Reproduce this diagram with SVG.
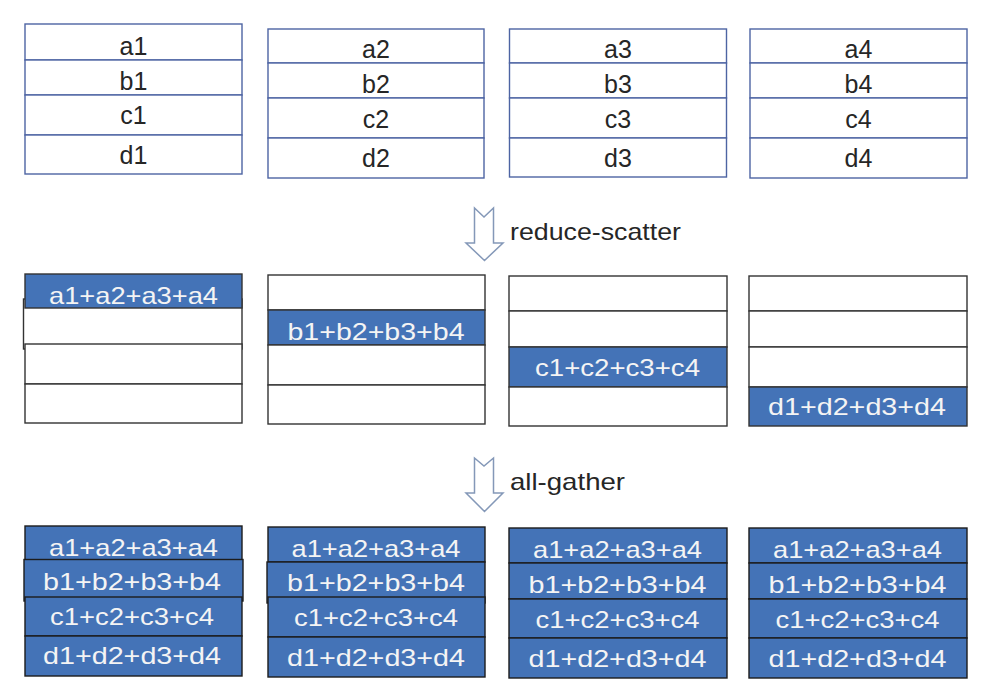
<svg xmlns="http://www.w3.org/2000/svg" width="988" height="694" viewBox="0 0 988 694">
<style>
text{font-family:"Liberation Sans",Arial,sans-serif;font-size:24px;text-anchor:middle}
.t{fill:#262626;font-size:25px}
.w{fill:#f4f4f4}
.top rect{fill:#fff;stroke:#4d64a3;stroke-width:1.4}
.mid rect{fill:#fff;stroke:#333;stroke-width:1.4}
.mid rect.b{fill:#4473b7}
.bot rect{fill:#4473b7;stroke:#1c1c1c;stroke-width:1.4}
.arr{fill:#fff;stroke:#8498b8;stroke-width:1.5;stroke-linejoin:miter}
.lbl{text-anchor:start;fill:#262626}
</style>
<rect width="988" height="694" fill="#fff"/>

<!-- top row -->
<g id="top1" class="top">
<rect x="25" y="24" width="217" height="36"/><rect x="25" y="60" width="217" height="35"/><rect x="25" y="95" width="217" height="40"/><rect x="25" y="135" width="217" height="39"/>
<text class="t" x="133.5" y="54.5">a1</text><text class="t" x="133.5" y="90">b1</text><text class="t" x="133.5" y="124">c1</text><text class="t" x="133.5" y="164">d1</text>
</g>
<g id="top2" class="top">
<rect x="268" y="29" width="216" height="34"/><rect x="268" y="63" width="216" height="35"/><rect x="268" y="98" width="216" height="40"/><rect x="268" y="138" width="216" height="40"/>
<text class="t" x="376" y="58">a2</text><text class="t" x="376" y="93">b2</text><text class="t" x="376" y="128">c2</text><text class="t" x="376" y="167">d2</text>
</g>
<g id="top3" class="top">
<rect x="509.5" y="29" width="217" height="34"/><rect x="509.5" y="63" width="217" height="35"/><rect x="509.5" y="98" width="217" height="40"/><rect x="509.5" y="138" width="217" height="39"/>
<text class="t" x="618" y="58">a3</text><text class="t" x="618" y="93">b3</text><text class="t" x="618" y="128">c3</text><text class="t" x="618" y="167">d3</text>
</g>
<g id="top4" class="top">
<rect x="750" y="29" width="217" height="34"/><rect x="750" y="63" width="217" height="35"/><rect x="750" y="98" width="217" height="40"/><rect x="750" y="138" width="217" height="40"/>
<text class="t" x="858.5" y="58">a4</text><text class="t" x="858.5" y="93">b4</text><text class="t" x="858.5" y="128">c4</text><text class="t" x="858.5" y="167">d4</text>
</g>

<!-- middle row -->
<g id="mid1" class="mid">
<rect x="23.5" y="299" width="218.5" height="50"/>
<rect class="b" x="25" y="274" width="217" height="34"/>
<rect x="25" y="344" width="217" height="40"/><rect x="25" y="384" width="217" height="39"/>
<text class="w" x="133.5" y="304" textLength="169" lengthAdjust="spacingAndGlyphs">a1+a2+a3+a4</text>
</g>
<g id="mid2" class="mid">
<rect x="268" y="275" width="217" height="35"/><rect class="b" x="268" y="310" width="217" height="35"/><rect x="268" y="345" width="217" height="40"/><rect x="268" y="385" width="217" height="39"/>
<text class="w" x="376" y="340" textLength="177" lengthAdjust="spacingAndGlyphs">b1+b2+b3+b4</text>
</g>
<g id="mid3" class="mid">
<rect x="509" y="276" width="218" height="35"/><rect x="509" y="311" width="218" height="36"/><rect class="b" x="509" y="347" width="218" height="40"/><rect x="509" y="387" width="218" height="39"/>
<text class="w" x="617.5" y="376" textLength="165" lengthAdjust="spacingAndGlyphs">c1+c2+c3+c4</text>
</g>
<g id="mid4" class="mid">
<rect x="749" y="276" width="218" height="35"/><rect x="749" y="311" width="218" height="36"/><rect x="749" y="347" width="218" height="40"/><rect class="b" x="749" y="387" width="218" height="39"/>
<text class="w" x="857" y="415" textLength="178" lengthAdjust="spacingAndGlyphs">d1+d2+d3+d4</text>
</g>

<!-- bottom row -->
<g id="bot1" class="bot">
<rect x="25" y="526" width="217" height="34"/><rect x="24" y="559.5" width="219" height="41.5"/><rect x="25" y="597" width="217" height="39"/><rect x="25" y="636" width="217" height="40"/>
<text class="w" x="133.5" y="556" textLength="169" lengthAdjust="spacingAndGlyphs">a1+a2+a3+a4</text>
<text class="w" x="132" y="590" textLength="178" lengthAdjust="spacingAndGlyphs">b1+b2+b3+b4</text>
<text class="w" x="132" y="625" textLength="164" lengthAdjust="spacingAndGlyphs">c1+c2+c3+c4</text>
<text class="w" x="132" y="664" textLength="178" lengthAdjust="spacingAndGlyphs">d1+d2+d3+d4</text>
</g>
<g id="bot2" class="bot">
<rect x="268" y="527" width="217" height="35"/><rect x="267" y="562" width="218" height="41"/><rect x="268" y="597" width="217" height="40"/><rect x="268" y="637" width="217" height="40"/>
<text class="w" x="376" y="557" textLength="169" lengthAdjust="spacingAndGlyphs">a1+a2+a3+a4</text>
<text class="w" x="376" y="591" textLength="178" lengthAdjust="spacingAndGlyphs">b1+b2+b3+b4</text>
<text class="w" x="376" y="626" textLength="164" lengthAdjust="spacingAndGlyphs">c1+c2+c3+c4</text>
<text class="w" x="376" y="666" textLength="178" lengthAdjust="spacingAndGlyphs">d1+d2+d3+d4</text>
</g>
<g id="bot3" class="bot">
<rect x="509" y="528" width="218" height="35"/><rect x="509" y="563" width="218" height="36"/><rect x="509" y="599" width="218" height="39"/><rect x="509" y="638" width="218" height="40"/>
<text class="w" x="617.5" y="558" textLength="169" lengthAdjust="spacingAndGlyphs">a1+a2+a3+a4</text>
<text class="w" x="617.5" y="593" textLength="178" lengthAdjust="spacingAndGlyphs">b1+b2+b3+b4</text>
<text class="w" x="617.5" y="628" textLength="164" lengthAdjust="spacingAndGlyphs">c1+c2+c3+c4</text>
<text class="w" x="617.5" y="667" textLength="178" lengthAdjust="spacingAndGlyphs">d1+d2+d3+d4</text>
</g>
<g id="bot4" class="bot">
<rect x="749" y="528" width="218" height="35"/><rect x="749" y="563" width="218" height="36"/><rect x="749" y="599" width="218" height="39"/><rect x="749" y="638" width="218" height="40"/>
<text class="w" x="857.5" y="558" textLength="169" lengthAdjust="spacingAndGlyphs">a1+a2+a3+a4</text>
<text class="w" x="857.5" y="593" textLength="178" lengthAdjust="spacingAndGlyphs">b1+b2+b3+b4</text>
<text class="w" x="857.5" y="628" textLength="164" lengthAdjust="spacingAndGlyphs">c1+c2+c3+c4</text>
<text class="w" x="857.5" y="667" textLength="178" lengthAdjust="spacingAndGlyphs">d1+d2+d3+d4</text>
</g>

<!-- connectors -->
<g id="connectors">
<g id="arrow-reduce-scatter">
<path class="arr" d="M474.5,208 L484,217 L493.5,208 L493.5,243 L503,243 L484.5,260.5 L466,243 L474.5,243 Z"/>
<text class="lbl" x="510" y="240" textLength="171" lengthAdjust="spacingAndGlyphs">reduce-scatter</text>
</g>
<g id="arrow-all-gather">
<path class="arr" d="M474.5,458 L484,466 L493.5,458 L493.5,493 L503,493 L484.5,511.5 L466,493 L474.5,493 Z"/>
<text class="lbl" x="510" y="490" textLength="115" lengthAdjust="spacingAndGlyphs">all-gather</text>
</g>
</g>
</svg>
